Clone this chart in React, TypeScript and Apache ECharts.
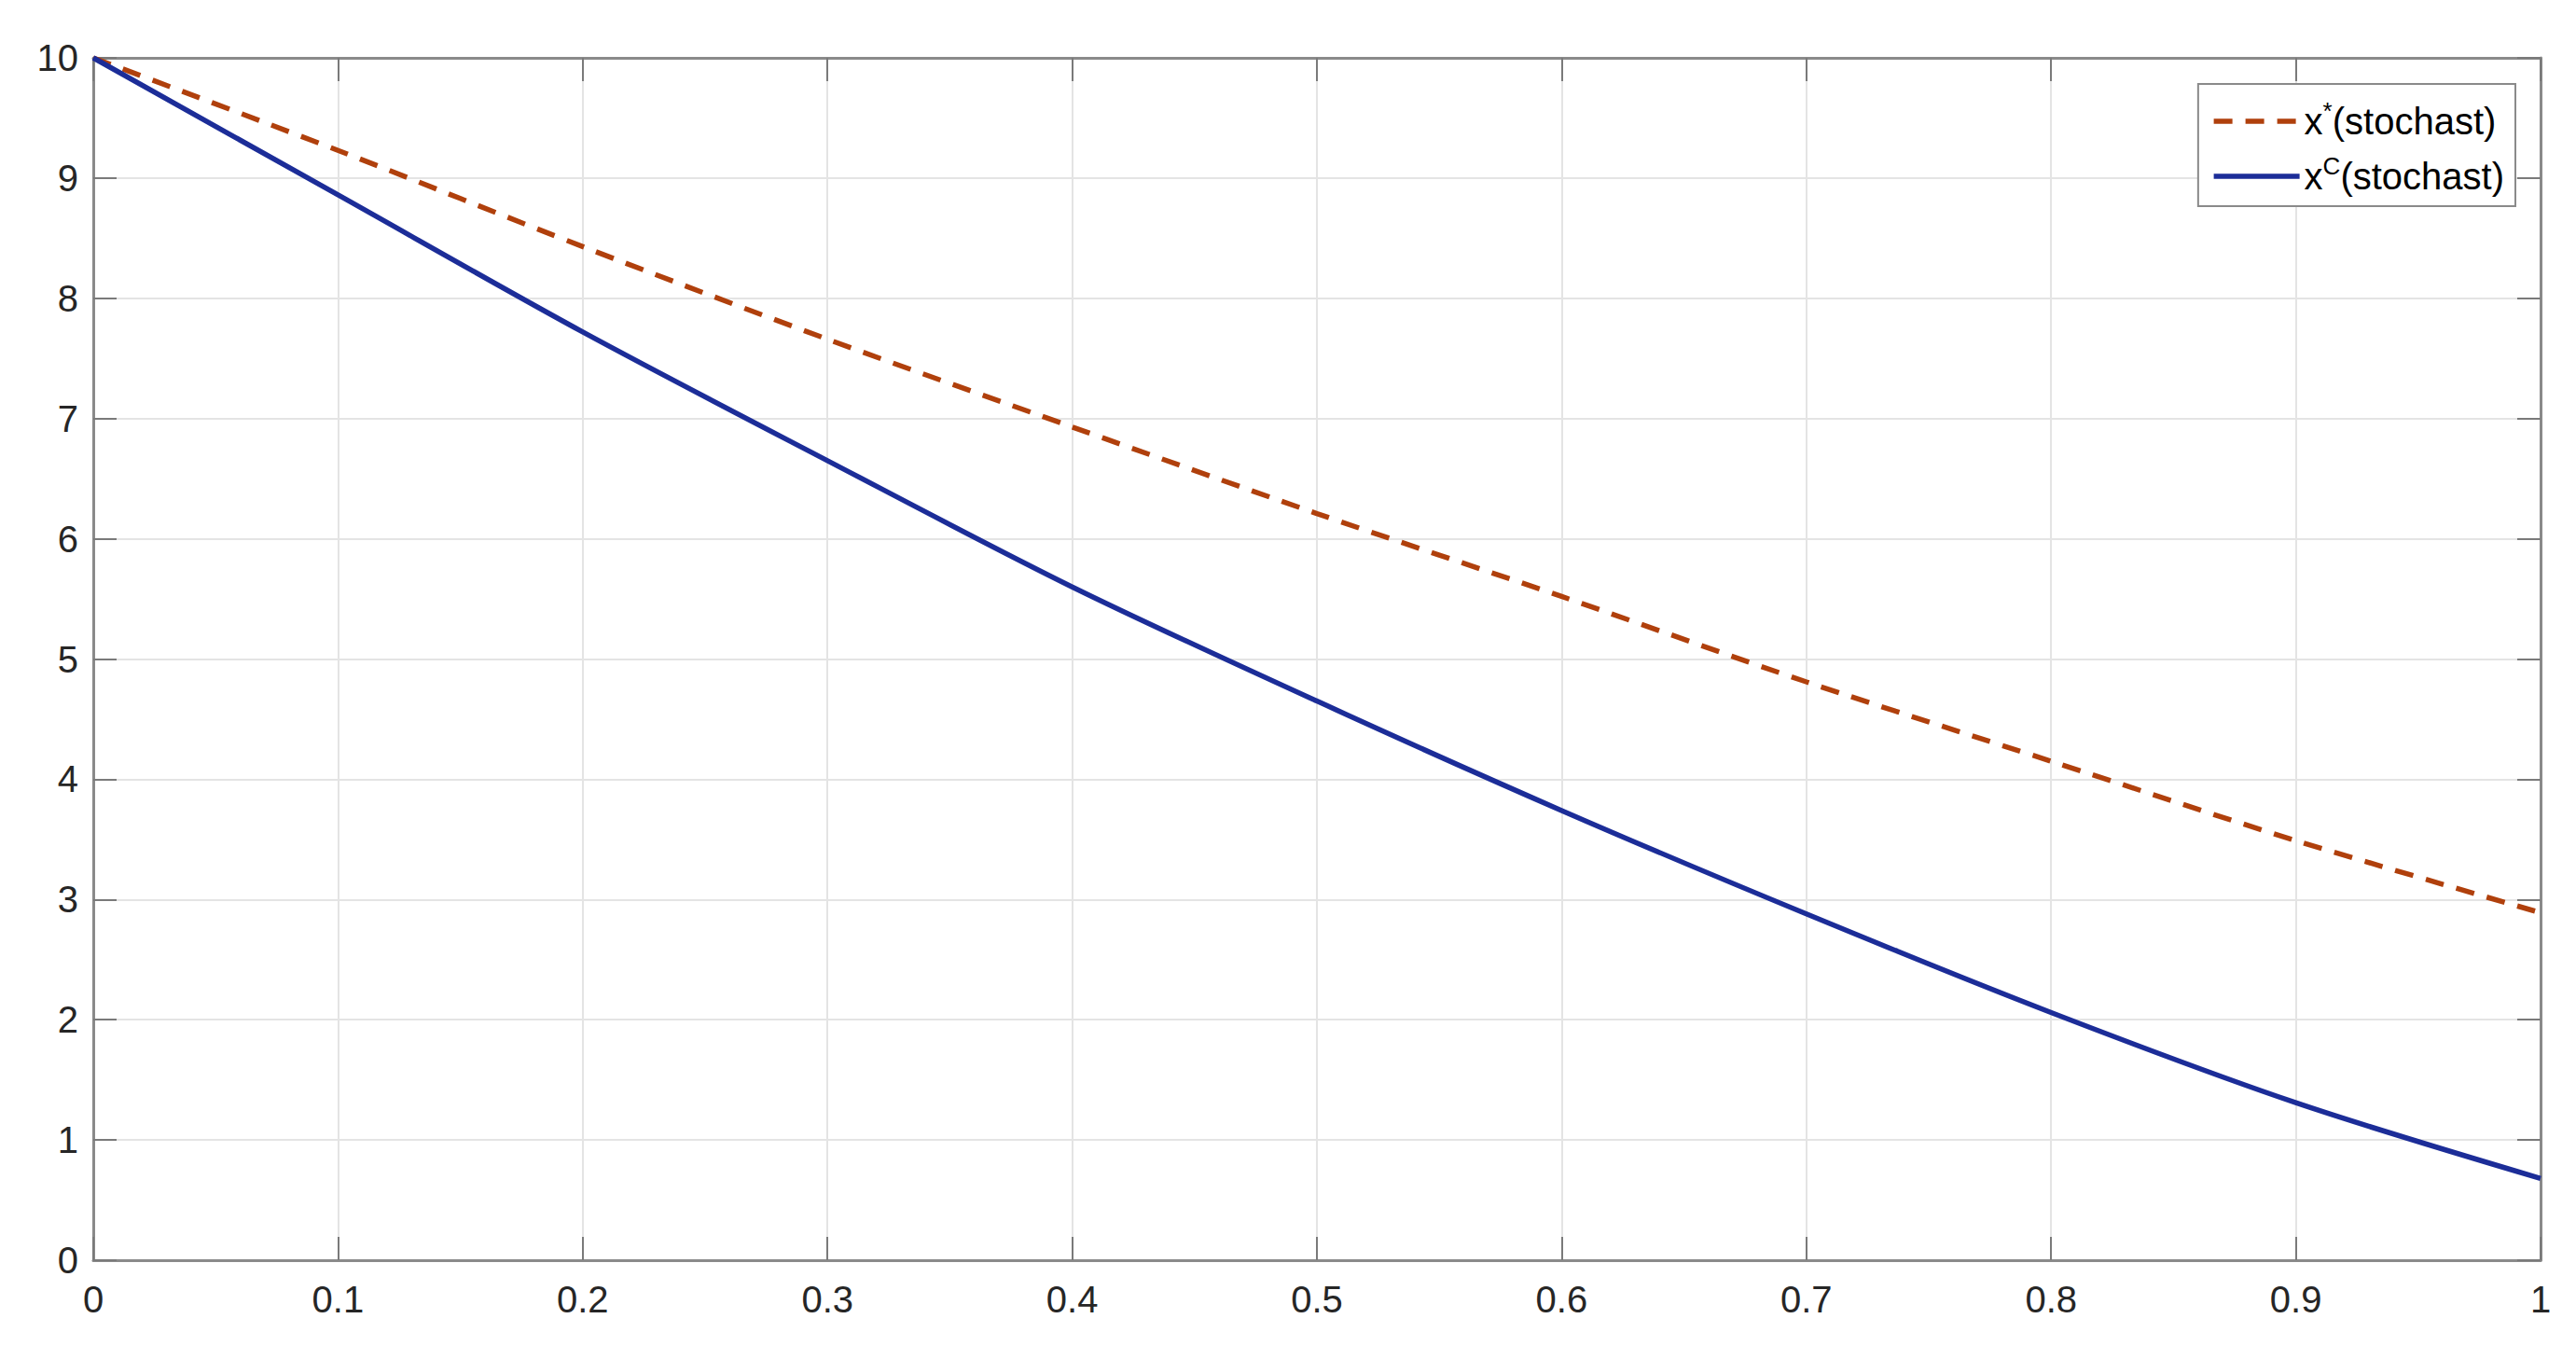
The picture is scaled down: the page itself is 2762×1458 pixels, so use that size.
import { useEffect, useRef } from 'react';
import * as echarts from 'echarts';

// time grid and the two trajectories
const tValues = [0, 0.1, 0.2, 0.3, 0.4, 0.5, 0.6, 0.7, 0.8, 0.9, 1];
const xStar = [10, 9.23, 8.43, 7.66, 6.93, 6.21, 5.52, 4.81, 4.15, 3.49, 2.89];
const xC = [10, 8.86, 7.72, 6.65, 5.6, 4.65, 3.74, 2.88, 2.06, 1.31, 0.68];

const seriesNames = ['x*(stochast)', 'xC(stochast)'];
const legendBase = ['x', 'x'];
const legendSup = ['*', 'C'];
const legendTail = ['(stochast)', '(stochast)'];

const X_MIN = 0;
const X_MAX = 1;
const X_STEP = 0.1;
const Y_MIN = 0;
const Y_MAX = 10;
const Y_STEP = 1;

const FONT = '"Liberation Sans", Arial, Helvetica, sans-serif';
const AXIS_COLOR = '#8a8a8a';
const TICK_COLOR = '#7a7a7a';
const GRID_COLOR = '#e4e4e4';
const LABEL_COLOR = '#262626';

export default function App() {
  const chartRef = useRef<HTMLDivElement>(null);

  useEffect(() => {
    if (!chartRef.current) return;
    const chart = echarts.init(chartRef.current, undefined, { renderer: 'svg' });

    const axisLine = { show: true, onZero: false, lineStyle: { color: AXIS_COLOR, width: 3 } };
    const axisTick = { show: true, inside: true, length: 25, lineStyle: { color: TICK_COLOR, width: 2 } };
    const splitLine = { show: true, lineStyle: { color: GRID_COLOR, width: 2 } };

    chart.setOption({
      animation: false,
      backgroundColor: '#ffffff',
      grid: { left: 92, top: 54, right: 30, bottom: 99, outerBoundsMode: 'none' },
      legend: {
        orient: 'vertical',
        right: 57,
        top: 82,
        padding: [16, 12, 12, 14],
        itemGap: 15,
        itemWidth: 92,
        itemHeight: 20,
        backgroundColor: '#ffffff',
        borderColor: '#8a8a8a',
        borderWidth: 2,
        itemStyle: { opacity: 0, borderWidth: 0 },
        lineStyle: { width: 5.5 },
        data: seriesNames,
        formatter: (name: string) => {
          const i = seriesNames.indexOf(name);
          return `{b|${legendBase[i]}}{s|${legendSup[i]}}{b|${legendTail[i]}}`;
        },
        textStyle: {
          fontFamily: FONT,
          color: '#000000',
          rich: {
            b: { fontFamily: FONT, fontSize: 40, lineHeight: 48, color: '#000000' },
            s: { fontFamily: FONT, fontSize: 26, lineHeight: 26, verticalAlign: 'top', color: '#000000' },
          },
        },
      },
      xAxis: [
        {
          type: 'value',
          min: X_MIN,
          max: X_MAX,
          interval: X_STEP,
          position: 'bottom',
          axisLine,
          axisTick,
          splitLine,
          axisLabel: { color: LABEL_COLOR, fontSize: 40, fontFamily: FONT, margin: 22 },
        },
        {
          type: 'value',
          min: X_MIN,
          max: X_MAX,
          interval: X_STEP,
          position: 'top',
          axisLine,
          axisTick,
          splitLine: { show: false },
          axisLabel: { show: false },
        },
      ],
      yAxis: [
        {
          type: 'value',
          min: Y_MIN,
          max: Y_MAX,
          interval: Y_STEP,
          position: 'left',
          axisLine,
          axisTick,
          splitLine,
          axisLabel: { color: LABEL_COLOR, fontSize: 40, fontFamily: FONT, margin: 16 },
        },
        {
          type: 'value',
          min: Y_MIN,
          max: Y_MAX,
          interval: Y_STEP,
          position: 'right',
          axisLine,
          axisTick,
          splitLine: { show: false },
          axisLabel: { show: false },
        },
      ],
      series: [
        {
          name: seriesNames[0],
          type: 'line',
          xAxisIndex: 0,
          yAxisIndex: 0,
          data: tValues.map((t, i) => [t, xStar[i]]),
          symbol: 'none',
          smooth: 0.3,
          lineStyle: { color: '#b0400c', width: 5.5, type: [20, 14] },
          itemStyle: { color: '#b0400c' },
          z: 3,
        },
        {
          name: seriesNames[1],
          type: 'line',
          xAxisIndex: 0,
          yAxisIndex: 0,
          data: tValues.map((t, i) => [t, xC[i]]),
          symbol: 'none',
          smooth: 0.3,
          lineStyle: { color: '#1c2d98', width: 5.5, type: 'solid' },
          itemStyle: { color: '#1c2d98' },
          z: 3,
        },
      ],
    });

    return () => {
      chart.dispose();
    };
  }, []);

  return <div ref={chartRef} style={{ width: 2746, height: 1442 }} />;
}
